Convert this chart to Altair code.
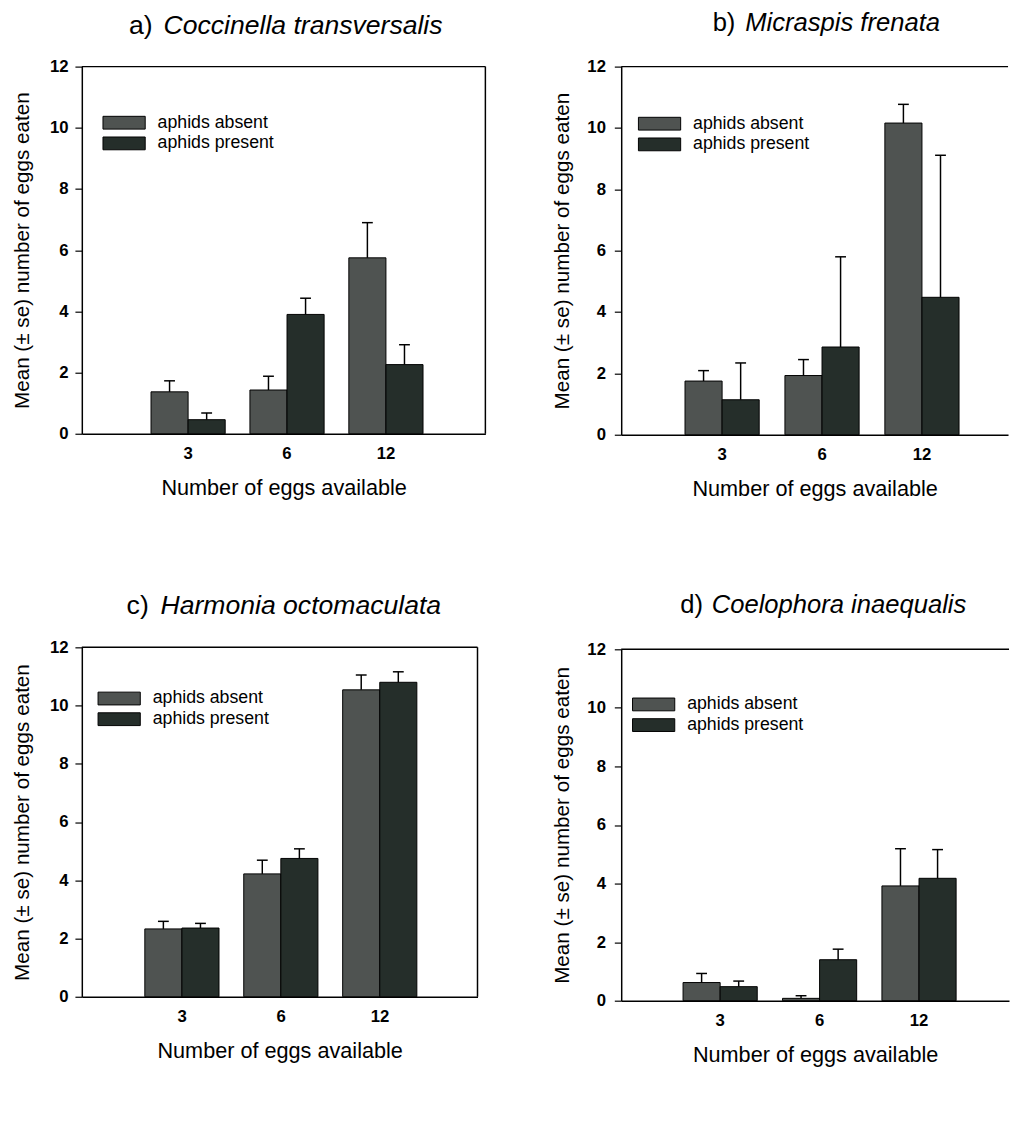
import altair as alt
import pandas as pd

categories = ["3", "6", "12"]
groups = ["aphids absent", "aphids present"]
letters = ["a)", "b)", "c)", "d)"]
species = ["Coccinella transversalis", "Micraspis frenata",
           "Harmonia octomaculata", "Coelophora inaequalis"]
y_ticks = [0, 2, 4, 6, 8, 10, 12]

# panel a
a_absent = [1.37, 1.43, 5.75]
a_absent_se = [0.36, 0.45, 1.15]
a_present = [0.46, 3.90, 2.26]
a_present_se = [0.22, 0.53, 0.65]
# panel b
b_absent = [1.75, 1.93, 10.16]
b_absent_se = [0.34, 0.52, 0.61]
b_present = [1.14, 2.86, 4.48]
b_present_se = [1.20, 2.94, 4.63]
# panel c
c_absent = [2.33, 4.22, 10.54]
c_absent_se = [0.26, 0.47, 0.51]
c_present = [2.36, 4.75, 10.80]
c_present_se = [0.16, 0.33, 0.36]
# panel d
d_absent = [0.62, 0.08, 3.92]
d_absent_se = [0.31, 0.09, 1.27]
d_present = [0.48, 1.40, 4.18]
d_present_se = [0.19, 0.36, 0.98]

FONT = "Liberation Sans"
ABSENT = "#4f5351"
PRESENT = "#252e2a"


def panel(i, absent, absent_se, present, present_se, width, height,
          pin, pout, align, lab_pad, title_pad, letter_x, species_x,
          title_y, title_size, leg_x, leg_y, right_border):
    rows = []
    for k, c in enumerate(categories):
        rows.append({"eggs": c, "group": groups[0], "mean": absent[k],
                     "top": absent[k] + absent_se[k]})
        rows.append({"eggs": c, "group": groups[1], "mean": present[k],
                     "top": present[k] + present_se[k]})
    df = pd.DataFrame(rows)
    base = alt.Chart(df)
    yscale = alt.Scale(domain=[0, 12], nice=False, zero=True)
    xscale = alt.Scale(paddingInner=pin, paddingOuter=pout, align=align)
    xaxis = alt.Axis(title="Number of eggs available", labelAngle=0, ticks=False,
                     labelPadding=12, titlePadding=17, labelFontSize=17,
                     labelFontWeight="bold", titleFontSize=22,
                     titleFontWeight="normal", domainColor="black",
                     domainWidth=1.5, labelColor="black", titleColor="black",
                     labelFont=FONT, titleFont=FONT)
    yaxis = alt.Axis(title="Mean (± se) number of eggs eaten", values=y_ticks,
                     grid=False, tickSize=7, tickColor="black", tickWidth=1.2,
                     labelPadding=lab_pad, titlePadding=title_pad,
                     labelFontSize=17, labelFontWeight="bold", titleFontSize=21,
                     titleFontWeight="normal", domainColor="black",
                     domainWidth=1.5, labelColor="black", titleColor="black",
                     labelFont=FONT, titleFont=FONT)
    xenc = alt.X("eggs:N", sort=categories, scale=xscale, axis=xaxis)
    xoff = alt.XOffset("group:N", sort=groups)
    legend = alt.Legend(orient="none", legendX=leg_x, legendY=leg_y,
                        direction="vertical", title=None,
                        symbolType="M-1,-1H5.6V1H-1Z", symbolSize=169,
                        symbolStrokeColor="black", symbolStrokeWidth=1,
                        symbolOpacity=1, labelFontSize=18, labelFont=FONT,
                        labelColor="black", labelOffset=40, rowPadding=3,
                        padding=0)
    bars = base.mark_bar(stroke="black", strokeWidth=1, opacity=1).encode(
        x=xenc,
        xOffset=xoff,
        y=alt.Y("mean:Q", scale=yscale, axis=yaxis),
        fill=alt.Fill("group:N", sort=groups,
                      scale=alt.Scale(domain=groups, range=[ABSENT, PRESENT]),
                      legend=legend),
    )
    err = base.mark_rule(color="black", strokeWidth=1.5).encode(
        x=xenc,
        xOffset=xoff,
        y=alt.Y("mean:Q", scale=yscale, axis=yaxis),
        y2="top:Q",
    )
    caps = base.mark_tick(color="black", thickness=1.5, size=11, opacity=1).encode(
        x=xenc,
        xOffset=xoff,
        y=alt.Y("top:Q", scale=yscale, axis=yaxis),
    )
    top = alt.Chart(pd.DataFrame({"v": [12]})).mark_rule(
        color="black", strokeWidth=1.5).encode(
        y=alt.Y("v:Q", scale=yscale, axis=yaxis),
        x=alt.value(0), x2=alt.value(width))
    letter = alt.Chart(pd.DataFrame({"t": [letters[i]]})).mark_text(
        align="right", baseline="middle", font=FONT, fontSize=title_size,
        color="black").encode(text="t:N", x=alt.value(letter_x),
                              y=alt.value(title_y))
    spec = alt.Chart(pd.DataFrame({"t": [species[i]]})).mark_text(
        align="left", baseline="middle", font=FONT, fontSize=title_size,
        fontStyle="italic", color="black").encode(
        text="t:N", x=alt.value(species_x), y=alt.value(title_y))
    layers = [bars, err, caps, top, letter, spec]
    if right_border:
        rb = alt.Chart(pd.DataFrame({"lo": [0], "hi": [12]})).mark_rule(
            color="black", strokeWidth=1.5).encode(
            x=alt.value(width),
            y=alt.Y("lo:Q", scale=yscale, axis=yaxis), y2="hi:Q")
        layers.append(rb)
    return alt.layer(*layers).properties(width=width, height=height)


pa = panel(0, a_absent, a_absent_se, a_present, a_present_se, 410, 373,
           0.25, 0.665, 0.526, 7, 17, 72, 83, -41, 27, 19, 48, True)
pb = panel(1, b_absent, b_absent_se, b_present, b_present_se, 393, 374,
           0.255, 0.563, 0.567, 9, 15, 116, 126, -44, 26, 15, 49, False)
pc = panel(2, c_absent, c_absent_se, c_present, c_present_se, 402, 355,
           0.244, 0.622, 0.512, 7, 17, 68, 80, -42, 27, 14, 43, True)
pd_ = panel(3, d_absent, d_absent_se, d_present, d_present_se, 394, 357,
            0.254, 0.577, 0.539, 9, 15, 83, 92, -45, 26, 9, 47, False)

chart = alt.concat(pa, pb, pc, pd_, columns=2).properties(
    align="none",
    spacing={"row": 94, "column": 66},
    padding={"left": 4, "top": -6, "right": 0, "bottom": 5},
    background="white",
).resolve_scale(fill="independent").resolve_legend(
    fill="independent").configure(font=FONT).configure_view(stroke=None)

chart.save("out.html", embed_options={"renderer": "svg", "actions": False})
